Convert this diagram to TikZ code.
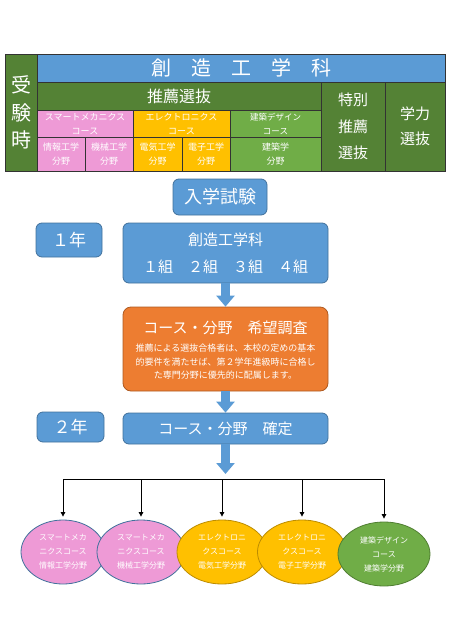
\documentclass[tikz,border=0pt]{standalone}
\usepackage{fontspec}
\setmainfont{Noto Sans CJK JP}
\usetikzlibrary{arrows.meta,shapes.geometric}
\definecolor{dgreen}{HTML}{548235}
\definecolor{tblue}{HTML}{5B9BD5}
\definecolor{bblue}{HTML}{41719C}
\definecolor{tpink}{HTML}{EE9AD6}
\definecolor{tyel}{HTML}{FFC000}
\definecolor{byel}{HTML}{BC8C00}
\definecolor{lgreen}{HTML}{70AD47}
\definecolor{bgreen}{HTML}{507E32}
\definecolor{torange}{HTML}{ED7D31}
\definecolor{borange}{HTML}{AE5A21}
\tikzset{
  cell/.style={draw=black!80,line width=0.7pt,inner sep=0pt,text=white,align=center},
  rbox/.style={draw=bblue,fill=tblue,rounded corners=6pt,line width=0.8pt,inner sep=0pt,text=white,align=center},
  obox/.style={draw=borange,fill=torange,rounded corners=8pt,line width=0.8pt,inner sep=0pt},
  course/.style={ellipse,draw,line width=0.8pt,inner sep=0pt,text=white,align=center,font={\fontsize{8}{14}\selectfont}},
  blockarr/.style={draw=tblue,fill=tblue,line width=9pt,-{Triangle[width=18pt,length=11pt]}},
  branch/.style={draw=black,line width=0.8pt,-{Triangle[width=4.5pt,length=4.5pt]},shorten >=3pt}
}
\begin{document}
\begin{tikzpicture}[x=1pt,y=-1pt]
\useasboundingbox (0,0) rectangle (450,635);
% table
\node[cell,fill=dgreen,minimum width=32pt,minimum height=117pt,font={\fontsize{20}{27.5}\selectfont}] (jyuken) at (21,112.5) {受\\験\\時};
\node[cell,fill=tblue,minimum width=408pt,minimum height=28pt,font={\fontsize{20}{24}\selectfont}] (title) at (241,68) {創\hspace{1em}造\hspace{1em}工\hspace{1em}学\hspace{1em}科};
\node[cell,fill=dgreen,minimum width=284pt,minimum height=28pt,font={\fontsize{16}{20}\selectfont}] (suisen) at (179,96) {推薦選抜};
\node[cell,fill=dgreen,minimum width=64pt,minimum height=89pt,font={\fontsize{15}{26.5}\selectfont}] (tokubetsu) at (353,126.5) {特別\\推薦\\選抜};
\node[cell,fill=dgreen,minimum width=60pt,minimum height=89pt,font={\fontsize{15}{25}\selectfont}] (gakuryoku) at (415,126.5) {学力\\選抜};
\node[cell,fill=tpink,minimum width=96pt,minimum height=27pt,font={\fontsize{9}{14}\selectfont}] (smart) at (85,123.5) {スマートメカニクス\\コース};
\node[cell,fill=tyel,minimum width=97pt,minimum height=27pt,font={\fontsize{9}{14}\selectfont}] (elec) at (181.5,123.5) {エレクトロニクス\\コース};
\node[cell,fill=lgreen,minimum width=91pt,minimum height=27pt,font={\fontsize{8.5}{14}\selectfont}] (arch) at (275.5,123.5) {建築デザイン\\コース};
\node[cell,fill=tpink,minimum width=48pt,minimum height=34pt,font={\fontsize{9}{14}\selectfont}] (joho) at (61,154) {情報工学\\分野};
\node[cell,fill=tpink,minimum width=48pt,minimum height=34pt,font={\fontsize{9}{14}\selectfont}] (kikai) at (109,154) {機械工学\\分野};
\node[cell,fill=tyel,minimum width=49pt,minimum height=34pt,font={\fontsize{9}{14}\selectfont}] (denki) at (157.5,154) {電気工学\\分野};
\node[cell,fill=tyel,minimum width=48pt,minimum height=34pt,font={\fontsize{9}{14}\selectfont}] (denshi) at (206,154) {電子工学\\分野};
\node[cell,fill=lgreen,minimum width=91pt,minimum height=34pt,font={\fontsize{9}{14}\selectfont}] (kenchiku) at (275.5,154) {建築学\\分野};
% flow boxes
\node[rbox,minimum width=94pt,minimum height=36pt,font={\fontsize{18}{22}\selectfont}] (nyushi) at (220,197) {入学試験};
\node[rbox,minimum width=205pt,minimum height=60pt,font={\fontsize{15}{27}\selectfont}] (sozo) at (225.5,253) {創造工学科\\１組　２組　３組　４組};
\node[rbox,minimum width=66pt,minimum height=34pt,font={\fontsize{17}{20}\selectfont}] (nen1) at (69,240) {１年};
\node[obox,minimum width=205pt,minimum height=84pt] (kibo) at (225.5,349) {};
\node[text=white,inner sep=0pt,font={\fontsize{15}{18}\selectfont}] (kibotitle) at (225.5,328) {コース・分野　希望調査};
\node[text=white,inner sep=0pt,align=center,font={\fontsize{9}{13.5}\selectfont}] (kibobody) at (225.5,362) {推薦による選抜合格者は、本校の定めの基本\\的要件を満たせば、第２学年進級時に合格し\\た専門分野に優先的に配属します。};
\node[rbox,minimum width=205pt,minimum height=31pt,font={\fontsize{15}{18}\selectfont}] (kakutei) at (225.5,428.5) {コース・分野　確定};
\node[rbox,minimum width=67pt,minimum height=30pt,font={\fontsize{17}{20}\selectfont}] (nen2) at (70.5,427) {２年};
% block arrows
\coordinate (tip) at (225.5,474);
\coordinate (hub) at (225.5,479);
\draw[blockarr] (sozo.south) -- (kibo.north);
\draw[blockarr] (kibo.south) -- (kakutei.north);
\draw[blockarr] (kakutei.south) -- (tip);
% course ellipses
\node[course,fill=tpink,draw=bblue,minimum width=84pt,minimum height=64pt] (e1) at (63,552) {スマートメカ\\ニクスコース\\情報工学分野};
\node[course,fill=tpink,draw=bblue,minimum width=88pt,minimum height=64pt] (e2) at (141,552) {スマートメカ\\ニクスコース\\機械工学分野};
\node[course,fill=tyel,draw=byel,minimum width=90pt,minimum height=64pt] (e3) at (222,552) {エレクトロニ\\クスコース\\電気工学分野};
\node[course,fill=tyel,draw=byel,minimum width=89pt,minimum height=64pt] (e4) at (302,552) {エレクトロニ\\クスコース\\電子工学分野};
\node[course,fill=lgreen,draw=bgreen,minimum width=92pt,minimum height=64pt] (e5) at (384,554) {建築デザイン\\コース\\建築学分野};
% branch lines
\draw[line width=0.8pt] (hub -| e1.north) -- (hub -| e5.north);
\foreach \e in {e1,e2,e3,e4,e5}{
  \draw[branch] (hub -| \e.north) -- (\e.north);
}
\end{tikzpicture}
\end{document}
